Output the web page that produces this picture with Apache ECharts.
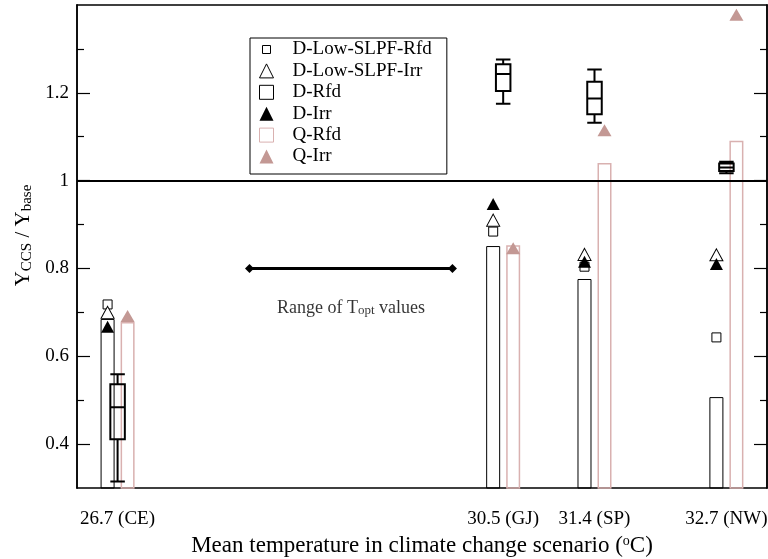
<!DOCTYPE html>
<html>
<head>
<meta charset="utf-8">
<script src="https://cdn.jsdelivr.net/npm/echarts@6/dist/echarts.min.js"></script>
<style>
  html, body { margin: 0; padding: 0; background: #fff; }
  #chart { width: 768px; height: 559px; }
</style>
</head>
<body>
<div id="chart"></div>
<script>
// Mean temperature of each climate change scenario (°C) and its site code
const temps = [26.7, 30.5, 31.4, 32.7];
const siteCodes = ['CE', 'GJ', 'SP', 'NW'];

// Yield ratio Y_CCS / Y_base per scenario
const dRfd = [0.685, 0.851, 0.776, 0.507];
const qRfd = [0.678, 0.853, 1.040, 1.091];
const dLowRfd = [0.718, 0.884, 0.804, 0.643];
const dLowIrr = [0.700, 0.910, 0.832, 0.831];
const dIrr = [0.667, 0.947, 0.815, 0.810];
const qIrr = [0.692, 0.846, 1.115, 1.378];

// Spread of the ratio: [min, Q1, median, Q3, max]
const boxStats = [
  [0.315, 0.411, 0.484, 0.536, 0.559],
  [1.175, 1.204, 1.243, 1.265, 1.276],
  [1.132, 1.151, 1.187, 1.225, 1.253],
  [1.017, 1.022, 1.030, 1.039, 1.043]
];

// Range of optimum temperature values
const toptRange = [28.0, 30.0];
const toptLevel = 0.8;

// Axis ticks
const yMajorTicks = [0.4, 0.6, 0.8, 1.0, 1.2];
const yMinorTicks = [0.5, 0.7, 0.9, 1.1, 1.3];
const baseline = 1;

const FONT = '"Liberation Serif", "DejaVu Serif", serif';
const PINK = '#c39894';
const PINK_LIGHT = '#d9b1b0';

const pairs = vals => temps.map((t, i) => [t, vals[i]]);

const chart = echarts.init(document.getElementById('chart'), null, { renderer: 'canvas' });

const yBase = { type: 'value', min: 0.3, max: 1.4, splitLine: { show: false } };
const tickAxis = (pos, ticks, len, labels, extra) => Object.assign({}, yBase, {
  position: pos,
  axisLine: { show: true, lineStyle: { color: '#000', width: 1.5 } },
  axisTick: { show: true, inside: true, length: len, customValues: ticks, lineStyle: { color: '#000', width: 1.2 } },
  axisLabel: labels
    ? { show: true, customValues: ticks, margin: 8, color: '#000', fontFamily: FONT, fontSize: 19 }
    : { show: false }
}, extra || {});

const option = {
  backgroundColor: '#fff',
  animation: false,
  grid: { left: 77, right: 1, top: 5, bottom: 71, containLabel: false, outerBoundsMode: 'none' },
  xAxis: [
    {
      type: 'value', min: 26.3, max: 33.1, position: 'bottom',
      splitLine: { show: false },
      axisLine: { show: true, lineStyle: { color: '#000', width: 1.5 } },
      axisTick: { show: false },
      axisLabel: {
        show: true, customValues: temps, margin: 22, color: '#000',
        fontFamily: FONT, fontSize: 19,
        formatter: v => {
          const i = temps.findIndex(t => Math.abs(t - v) < 1e-6);
          return i < 0 ? '' : temps[i].toFixed(1) + ' (' + siteCodes[i] + ')';
        }
      },
      name: '{m|Mean temperature in climate change scenario (}{sup|o}{m|C)}',
      nameLocation: 'middle', nameGap: 43,
      nameTextStyle: {
        color: '#000', fontFamily: FONT, fontSize: 23,
        rich: {
          m: { fontFamily: FONT, fontSize: 23, color: '#000', lineHeight: 25 },
          sup: { fontFamily: FONT, fontSize: 14, color: '#000', verticalAlign: 'top', lineHeight: 14 }
        }
      }
    },
    {
      type: 'value', min: 26.3, max: 33.1, position: 'top',
      splitLine: { show: false },
      axisLine: { show: true, lineStyle: { color: '#000', width: 1.5 } },
      axisTick: { show: false }, axisLabel: { show: false }
    }
  ],
  yAxis: [
    tickAxis('left', yMajorTicks, 13, true, {
      name: '{m|Y}{s|CCS}{m| / Y}{s|base}',
      nameLocation: 'middle', nameGap: 40, nameRotate: 90,
      nameTextStyle: {
        color: '#000', fontFamily: FONT, padding: [0, 0, 0, 22],
        rich: {
          m: { fontFamily: FONT, fontSize: 21, color: '#000', lineHeight: 22, verticalAlign: 'bottom' },
          s: { fontFamily: FONT, fontSize: 15, color: '#000', lineHeight: 14, verticalAlign: 'bottom', padding: [7, 0, 0, 0] }
        }
      }
    }),
    tickAxis('left', yMinorTicks, 7, false),
    tickAxis('right', yMajorTicks, 13, false),
    tickAxis('right', yMinorTicks, 7, false)
  ],
  legend: {
    orient: 'vertical', left: 250, top: 38,
    padding: [2, 15, 8, 9],
    itemWidth: 14, itemHeight: 14, itemGap: 2.4,
    borderColor: '#000', borderWidth: 1,
    backgroundColor: '#fff',
    selectedMode: false,
    textStyle: { color: '#000', fontFamily: FONT, fontSize: 19, lineHeight: 19, padding: [0, 0, 0, 14] },
    itemStyle: { borderWidth: 1 },
    data: [
      { name: 'D-Low-SLPF-Rfd', icon: 'path://M0,0M14,14M3,3L11,3L11,11L3,11Z' },
      { name: 'D-Low-SLPF-Irr', icon: 'triangle' },
      { name: 'D-Rfd', icon: 'rect' },
      { name: 'D-Irr', icon: 'triangle' },
      { name: 'Q-Rfd', icon: 'rect' },
      { name: 'Q-Irr', icon: 'triangle' }
    ]
  },
  series: [
    {
      name: 'D-Rfd', type: 'bar', data: pairs(dRfd),
      barWidth: 14, barGap: '43%', z: 2,
      itemStyle: { color: 'rgba(255,255,255,0)', borderColor: '#000', borderWidth: 1 }
    },
    {
      name: 'Q-Rfd', type: 'bar', data: pairs(qRfd),
      barWidth: 14, barGap: '43%', z: 2,
      itemStyle: { color: 'rgba(255,255,255,0)', borderColor: PINK_LIGHT, borderWidth: 1.5 }
    },
    {
      name: 'Spread', type: 'boxplot', z: 3,
      data: temps.map((t, i) => [t].concat(boxStats[i])),
      boxWidth: [14.5, 14.5],
      itemStyle: { color: 'rgba(255,255,255,0)', borderColor: '#000', borderWidth: 2 }
    },
    {
      name: 'Topt', type: 'line', z: 4,
      data: toptRange.map(t => [t, toptLevel]),
      symbol: 'diamond', symbolSize: 9, showSymbol: true,
      lineStyle: { color: '#000', width: 3 },
      itemStyle: { color: '#000' },
      markLine: {
        silent: true, symbol: ['none', 'none'],
        label: { show: false },
        lineStyle: { color: '#000', width: 2, type: 'solid' },
        data: [{ yAxis: baseline }]
      }
    },
    {
      name: 'ToptLabel', type: 'scatter', z: 4,
      data: [[(toptRange[0] + toptRange[1]) / 2, toptLevel]],
      symbolSize: 0,
      label: {
        show: true, position: 'bottom', distance: 29,
        formatter: '{m|Range of T}{s|opt}{m| values}',
        rich: {
          m: { fontFamily: FONT, fontSize: 18, color: '#000', lineHeight: 20, verticalAlign: 'bottom' },
          s: { fontFamily: FONT, fontSize: 13, color: '#000', lineHeight: 12, verticalAlign: 'bottom', padding: [8, 0, 0, 0] }
        }
      }
    },
    {
      name: 'D-Low-SLPF-Rfd', type: 'scatter', z: 5, data: pairs(dLowRfd),
      symbol: 'rect', symbolSize: 9, symbolOffset: [-10, 0],
      itemStyle: { color: '#fff', borderColor: '#000', borderWidth: 1, opacity: 1 }
    },
    {
      name: 'D-Low-SLPF-Irr', type: 'scatter', z: 5, data: pairs(dLowIrr),
      symbol: 'triangle', symbolSize: [13, 12], symbolOffset: [-10, 0],
      itemStyle: { color: '#fff', borderColor: '#000', borderWidth: 1, opacity: 1 }
    },
    {
      name: 'D-Irr', type: 'scatter', z: 6, data: pairs(dIrr),
      symbol: 'triangle', symbolSize: [13, 12], symbolOffset: [-10, 0],
      itemStyle: { color: '#000', opacity: 1 }
    },
    {
      name: 'Q-Irr', type: 'scatter', z: 5, data: pairs(qIrr),
      symbol: 'triangle', symbolSize: [14, 12], symbolOffset: [10, 0],
      itemStyle: { color: PINK, opacity: 1 }
    }
  ]
};

chart.setOption(option);
</script>
</body>
</html>
